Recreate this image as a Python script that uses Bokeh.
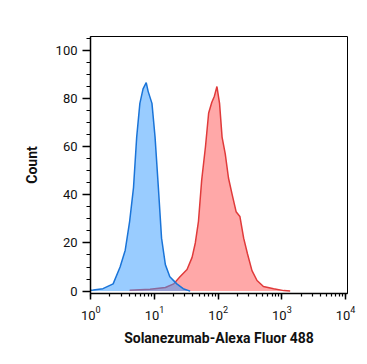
from bokeh.plotting import figure
from bokeh.models import Range1d, FixedTicker
from bokeh.embed import file_html
from bokeh.resources import INLINE

# Isotype / unstained control (blue)
blue_x = [1.0, 1.09, 1.55, 2.24, 2.88, 3.47, 4.07, 4.68, 5.25, 5.89, 6.61, 7.41,
          7.94, 9.12, 10.2, 11.5, 12.9, 14.8, 17.4, 22.4, 28.2, 36.3]
blue_y = [0.4, 0.5, 1.0, 3.0, 10.0, 17.0, 29.0, 43.0, 64.0, 78.0, 84.0, 86.6,
          83.0, 78.0, 64.0, 43.0, 22.0, 11.0, 6.0, 3.0, 1.0, 0.0]

# Solanezumab-Alexa Fluor 488 stained (red)
red_x = [4.07, 8.51, 14.8, 20.0, 25.1, 32.4, 38.9, 43.7, 49.0, 55.0, 63.1, 70.8,
         79.4, 87.1, 95.5, 105, 115, 129, 145, 166, 191, 219, 251, 288, 339,
         407, 513, 741, 1072, 1349]
red_y = [0.4, 0.8, 1.5, 3.0, 6.0, 9.0, 14.0, 20.0, 29.0, 46.0, 60.0, 74.0,
         78.5, 81.0, 85.0, 78.0, 64.0, 57.0, 47.0, 40.0, 33.0, 31.0, 22.0, 15.5,
         8.5, 4.4, 1.9, 1.0, 0.2, 0.0]

y_ticks = [0, 20, 40, 60, 80, 100]
x_label = "Solanezumab-Alexa Fluor 488"
y_label = "Count"

p = figure(width=359, height=356, x_axis_type="log",
           x_range=Range1d(10 ** -0.005, 10 ** 4.03), y_range=Range1d(-1, 105.8),
           output_backend="svg", toolbar_location=None,
           min_border_left=90, min_border_right=12, min_border_top=36, min_border_bottom=63)

p.varea(x=red_x, y1=[0] * len(red_x), y2=red_y, fill_color="#ff5252", fill_alpha=0.5)
p.line(red_x, red_y, line_color="#e03a3a", line_width=1.5)
p.varea(x=blue_x, y1=[0] * len(blue_x), y2=blue_y, fill_color="#3399ff", fill_alpha=0.5)
p.line(blue_x, blue_y, line_color="#1a74d8", line_width=1.5)

p.grid.visible = False
p.outline_line_color = "black"
p.outline_line_width = 1
p.outline_line_alpha = 1

p.yaxis.ticker = FixedTicker(ticks=y_ticks, minor_ticks=list(range(0, 106, 5)))
p.xaxis.ticker.desired_num_ticks = 5

for ax in (p.xaxis, p.yaxis):
    ax.axis_line_width = 1.5
    ax.axis_line_color = "black"
    ax.major_tick_line_width = 1.5
    ax.minor_tick_line_width = 1.2
    ax.major_tick_line_color = "black"
    ax.minor_tick_line_color = "black"
    ax.major_tick_in = 0
    ax.minor_tick_in = 0
    ax.major_label_text_font = "Roboto"
    ax.major_label_text_font_size = "13px"
    ax.major_label_text_color = "#111111"
    ax.axis_label_text_font = "Roboto"
    ax.axis_label_text_font_size = "14px"
    ax.axis_label_text_font_style = "bold"
    ax.axis_label_text_color = "#111111"

p.yaxis.major_tick_out = 8
p.yaxis.minor_tick_out = 4
p.xaxis.major_tick_out = 6
p.xaxis.minor_tick_out = 3
p.yaxis.major_label_standoff = 5
p.xaxis.major_label_standoff = 6
p.xaxis.axis_label = x_label
p.yaxis.axis_label = y_label
p.xaxis.axis_label_standoff = 7
p.yaxis.axis_label_standoff = 13

open("out.html", "w").write(file_html(p, INLINE))
